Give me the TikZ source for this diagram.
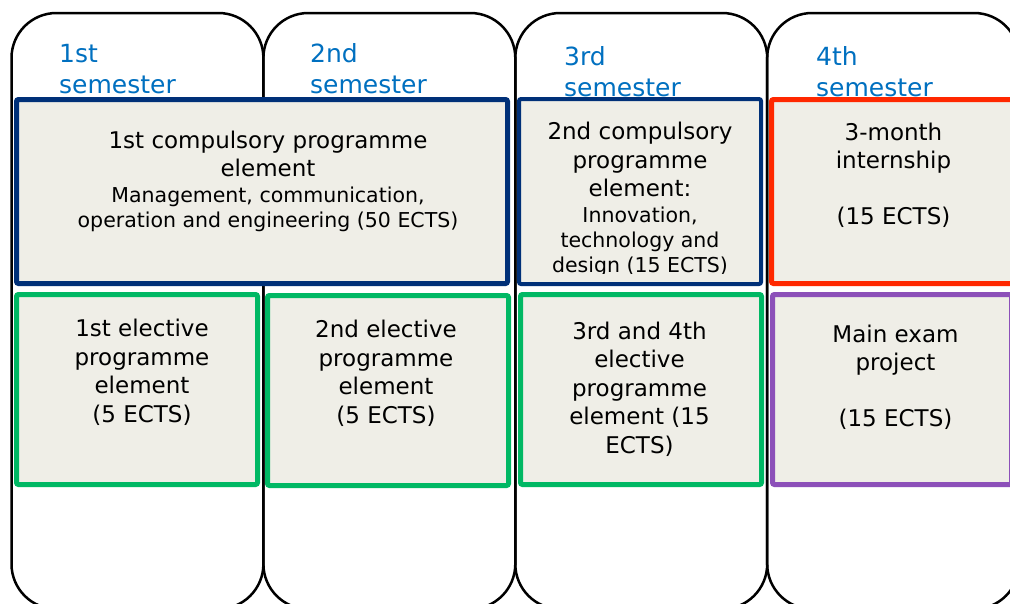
\documentclass[tikz,border=0pt]{standalone}
\usepackage{fontspec}
\setmainfont{DejaVu Sans}
\usetikzlibrary{positioning}
\definecolor{semblue}{RGB}{0,112,192}
\definecolor{navy}{RGB}{0,48,120}
\definecolor{redline}{RGB}{255,40,0}
\definecolor{greenline}{RGB}{0,184,100}
\definecolor{purpleline}{RGB}{140,80,185}
\definecolor{boxfill}{RGB}{239,238,231}
\newcommand{\bigtxt}{\fontsize{23}{28.5}\selectfont}
\newcommand{\smalltxt}{\fontsize{20.5}{25}\selectfont}
\begin{document}
\begin{tikzpicture}[x=1pt,y=-1pt,
   semcol/.style={draw=black,line width=2.5pt,rounded corners=45pt,
      minimum width=251.9pt,minimum height=596pt,inner sep=0pt},
   semlabel/.style={text=semblue,font=\fontsize{25}{30.5}\selectfont,
      align=left,anchor=base west,inner sep=0pt},
   module/.style={fill=boxfill,line width=5pt,rounded corners=2pt,inner sep=0pt},
   modtext/.style={align=center,font=\bigtxt,anchor=base,inner sep=0pt}]
   \useasboundingbox (0,0) rectangle (1010,603);
   \fill[white] (0,0) rectangle (1010,603);
   \clip (0,0) rectangle (1010,603);

   \node[semcol] (sem1) at (137.45,311) {};
   \node[semcol] (sem2) at (389.35,311) {};
   \node[semcol] (sem3) at (641.25,311) {};
   \node[semcol] (sem4) at (893.15,311) {};

   \node[semlabel] (lab1) at (59,93) {1st\\semester};
   \node[semlabel] (lab2) at (310,93) {2nd\\semester};
   \node[semlabel] (lab3) at (564,96) {3rd\\semester};
   \node[semlabel] (lab4) at (816,96) {4th\\semester};

   \node[module,draw=navy,minimum width=491pt,minimum height=184pt]
   (comp1) at (262,191.5) {};
   \node[module,draw=navy,line width=4pt,minimum width=242pt,minimum height=185pt]
   (comp2) at (640,191.5) {};
   \node[module,draw=redline,minimum width=244.5pt,minimum height=184pt]
   (intern) at (893.75,191.5) {};
   \node[module,draw=greenline,minimum width=241pt,minimum height=190pt]
   (elec1) at (137,389.5) {};
   \node[module,draw=greenline,minimum width=241pt,minimum height=190pt]
   (elec2) at (388,390.5) {};
   \node[module,draw=greenline,minimum width=241pt,minimum height=190pt]
   (elec3) at (641,389.5) {};
   \node[module,draw=purpleline,minimum width=239pt,minimum height=190pt]
   (exam) at (892,389.5) {};

   \node[modtext] (comp1txt) at (268,227)
   {1st compulsory programme\\element\\[-3pt]
   {\smalltxt Management, communication,}\\[-3.5pt]
   {\smalltxt operation and engineering (50 ECTS)}};
   \begin{scope}
      \clip (519,99) rectangle (761,273);
      \node[modtext] (comp2txt) at (640,272)
      {2nd compulsory\\programme\\element:\\[-3pt]
      {\smalltxt Innovation,}\\[-3.5pt]
      {\smalltxt technology and}\\[-3.5pt]
      {\smalltxt design (15 ECTS)}};
   \end{scope}
   \node[modtext] (interntxt) at (893.5,224) {3-month\\internship\\[27pt](15 ECTS)};
   \node[modtext] (elec1txt) at (142,422) {1st elective\\programme\\element\\(5 ECTS)};
   \node[modtext] (elec2txt) at (386,423) {2nd elective\\programme\\element\\(5 ECTS)};
   \node[modtext] (elec3txt) at (639.5,453)
   {3rd and 4th\\elective\\programme\\element (15\\ECTS)};
   \node[modtext] (examtxt) at (895.5,426) {Main exam\\project\\[27pt](15 ECTS)};
\end{tikzpicture}
\end{document}
